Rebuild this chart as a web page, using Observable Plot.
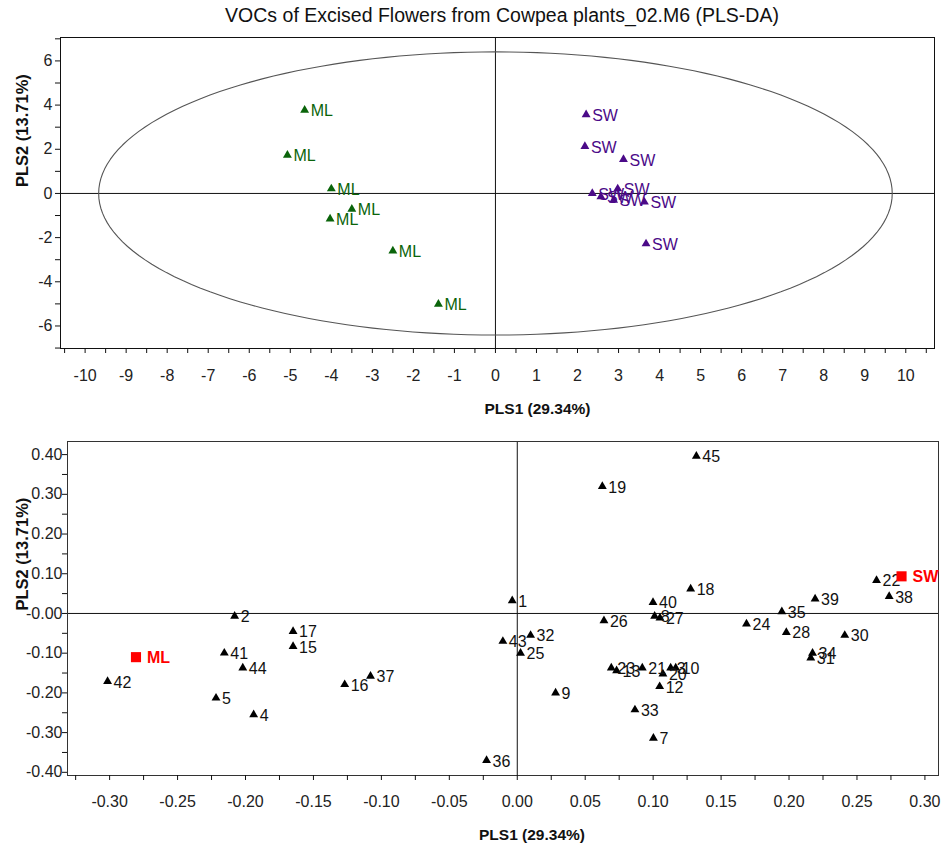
<!DOCTYPE html>
<html><head><meta charset="utf-8">
<script src="https://cdn.jsdelivr.net/npm/d3@7"></script>
<script src="https://cdn.jsdelivr.net/npm/@observablehq/plot@0.6"></script>
<style>
body{margin:0;background:#fff;}
#wrap{position:relative;width:944px;height:849px;overflow:hidden;background:#fff;}
#title{position:absolute;left:0;width:1004px;top:4px;text-align:center;font-family:'Liberation Sans',Arial,sans-serif;font-size:19.5px;color:#111;}
#p1{position:absolute;left:0;top:28px;}
#p2{position:absolute;left:0;top:428px;}
</style></head>
<body><div id="wrap"><div id="title">VOCs of Excised Flowers from Cowpea plants_02.M6 (PLS-DA)</div><div id="p1"></div><div id="p2"></div></div>
<script>
// ---- Score plot (top) ----
const mlX = [-4.65, -5.07, -4.00, -3.50, -4.03, -2.50, -1.39];
const mlY = [3.77, 1.73, 0.21, -0.71, -1.15, -2.60, -5.01];
const swX = [2.21, 2.18, 3.12, 2.36, 2.57, 2.98, 2.88, 3.63, 3.67];
const swY = [3.57, 2.13, 1.54, 0.00, -0.15, 0.21, -0.30, -0.39, -2.28];
const ellipseRx = 9.67, ellipseRy = 6.41; // Hotelling T2 ellipse radii
const topXTicks = [-10,-9,-8,-7,-6,-5,-4,-3,-2,-1,0,1,2,3,4,5,6,7,8,9,10];
const topYTicks = [-6,-4,-2,0,2,4,6];

// ---- Loading plot (bottom) ----
const loadId = [1,2,3,4,5,7,8,9,10,12,13,15,16,17,18,19,20,21,22,23,24,25,26,27,28,30,31,32,33,34,35,36,37,38,39,40,41,42,43,44,45];
const loadX = [-0.0037,-0.208,0.1129,-0.194,-0.2217,0.1002,0.1011,0.0282,0.1166,0.1048,0.0731,-0.165,-0.127,-0.165,0.1276,0.0626,0.1072,0.092,0.2644,0.0692,0.1687,0.0024,0.0638,0.105,0.198,0.241,0.216,0.0098,0.0866,0.2173,0.1947,-0.0226,-0.108,0.2737,0.2192,0.0999,-0.2156,-0.3015,-0.0106,-0.202,0.1318];
const loadY = [0.032,-0.007,-0.137,-0.255,-0.213,-0.314,-0.007,-0.200,-0.137,-0.184,-0.144,-0.083,-0.179,-0.045,0.0617,0.320,-0.152,-0.137,0.0834,-0.137,-0.0265,-0.0997,-0.018,-0.011,-0.0476,-0.055,-0.112,-0.055,-0.2425,-0.0997,0.0045,-0.370,-0.158,0.043,0.0365,0.028,-0.0996,-0.171,-0.070,-0.137,0.396];
const classNames = ["ML", "SW"];
const classX = [-0.2806, 0.2828];
const classY = [-0.110, 0.0935];
const botXTicks = [-0.30,-0.25,-0.20,-0.15,-0.10,-0.05,0,0.05,0.10,0.15,0.20,0.25,0.30];
const botXLabels = ["-0.30","-0.25","-0.20","-0.15","-0.10","-0.05","0.00","0.05","0.10","0.15","0.20","0.25","0.30"];
const botYTicks = [0.40,0.30,0.20,0.10,0,-0.10,-0.20,-0.30,-0.40];
const botYLabels = ["0.40","0.30","0.20","0.10","-0.00","-0.10","-0.20","-0.30","-0.40"];

const FONT = "'Liberation Sans',Arial,sans-serif";
const GREEN = "#0a640a", PURPLE = "#4b0a88";

const ml = mlX.map((x, i) => ({x, y: mlY[i], label: "ML"}));
const sw = swX.map((x, i) => ({x, y: swY[i], label: "SW"}));
const ell = d3.range(0, 361, 2).map(a => ({x: ellipseRx * Math.cos(a * Math.PI / 180), y: ellipseRy * Math.sin(a * Math.PI / 180)}));
const loads = loadId.map((id, i) => ({id: String(id), x: loadX[i], y: loadY[i]}));
const classes = classNames.map((n, i) => ({n, x: classX[i], y: classY[i]}));

const lab = (vals, labels) => d => { const i = vals.findIndex(v => Math.abs(v - d) < 1e-9); return i < 0 ? "" : labels[i]; };

const p1 = Plot.plot({
  width: 944, height: 400,
  marginTop: 9, marginBottom: 80, marginLeft: 60, marginRight: 10,
  x: {domain: [-10.6, 10.7]},
  y: {domain: [-7.02, 7.06]},
  style: {fontFamily: FONT, fontSize: "16px", color: "#222", background: "white", overflow: "visible"},
  marks: [
    Plot.ruleX([0], {stroke: "#111", strokeWidth: 1}),
    Plot.ruleY([0], {stroke: "#111", strokeWidth: 1}),
    Plot.line(ell, {x: "x", y: "y", stroke: "#555", strokeWidth: 1.1}),
    Plot.frame({stroke: "#111"}),
    Plot.axisX({ticks: d3.range(-10.5, 10.51, 0.5), tickSize: 5, tickFormat: () => "", label: null, stroke: "#111"}),
    Plot.axisX({ticks: topXTicks, tickSize: 0, tickPadding: 21, tickFormat: lab(topXTicks, topXTicks.map(String)), label: null}),
    Plot.axisY({ticks: d3.range(-7, 7.01, 1), tickSize: 5, tickFormat: () => "", label: null, stroke: "#111"}),
    Plot.axisY({ticks: topYTicks, tickSize: 0, tickPadding: 8, tickFormat: lab(topYTicks, topYTicks.map(String)), label: null}),
    Plot.dot(ml, {x: "x", y: "y", symbol: "triangle", fill: GREEN, r: 3.3}),
    Plot.text(ml, {x: "x", y: "y", text: "label", dx: 6, dy: 1, textAnchor: "start", fill: GREEN, fontSize: 16}),
    Plot.dot(sw, {x: "x", y: "y", symbol: "triangle", fill: PURPLE, r: 3.3}),
    Plot.text(sw, {x: "x", y: "y", text: "label", dx: 6, dy: 1, textAnchor: "start", fill: PURPLE, fontSize: 16}),
    Plot.text(["PLS1 (29.34%)"], {frameAnchor: "bottom", dx: 40, dy: 65, fontWeight: "bold", fontSize: 15.5, fill: "#111"}),
    Plot.text(["PLS2 (13.71%)"], {frameAnchor: "left", rotate: -90, dx: -38, dy: -6, fontWeight: "bold", fontSize: 16.5, fill: "#111"})
  ]
});
document.getElementById("p1").appendChild(p1);

const p2 = Plot.plot({
  width: 944, height: 421,
  marginTop: 13, marginBottom: 74, marginLeft: 67, marginRight: 6,
  x: {domain: [-0.331, 0.310]},
  y: {domain: [-0.408, 0.433]},
  style: {fontFamily: FONT, fontSize: "16px", color: "#222", background: "white", overflow: "visible"},
  marks: [
    Plot.ruleX([0], {stroke: "#111", strokeWidth: 1}),
    Plot.ruleY([0], {stroke: "#111", strokeWidth: 1}),
    Plot.frame({stroke: "#333"}),
    Plot.axisX({ticks: d3.range(-0.325, 0.3001, 0.025), tickSize: 5, tickFormat: () => "", label: null, stroke: "#111"}),
    Plot.axisX({ticks: botXTicks, tickSize: 0, tickPadding: 20, tickFormat: lab(botXTicks, botXLabels), label: null}),
    Plot.axisY({ticks: d3.range(-0.40, 0.4001, 0.05), tickSize: 5, tickFormat: () => "", label: null, stroke: "#111"}),
    Plot.axisY({ticks: botYTicks, tickSize: 0, tickPadding: 5, tickFormat: lab(botYTicks, botYLabels), label: null}),
    Plot.dot(loads, {x: "x", y: "y", symbol: "triangle", fill: "#000", r: 3.3}),
    Plot.text(loads, {x: "x", y: "y", text: "id", dx: 6, dy: 1, textAnchor: "start", fill: "#111", fontSize: 16}),
    Plot.dot(classes, {x: "x", y: "y", symbol: "square", fill: "#ff0000", r: 5.7}),
    Plot.text(classes, {x: "x", y: "y", text: "n", dx: 11, dy: 1, textAnchor: "start", fill: "#ff0000", fontWeight: "bold", fontSize: 16}),
    Plot.text(["PLS1 (29.34%)"], {frameAnchor: "bottom", dx: 29, dy: 64, fontWeight: "bold", fontSize: 15.5, fill: "#111"}),
    Plot.text(["PLS2 (13.71%)"], {frameAnchor: "left", rotate: -90, dx: -45, dy: 2, fontWeight: "bold", fontSize: 16.5, fill: "#111"})
  ]
});
document.getElementById("p2").appendChild(p2);
</script></body></html>
